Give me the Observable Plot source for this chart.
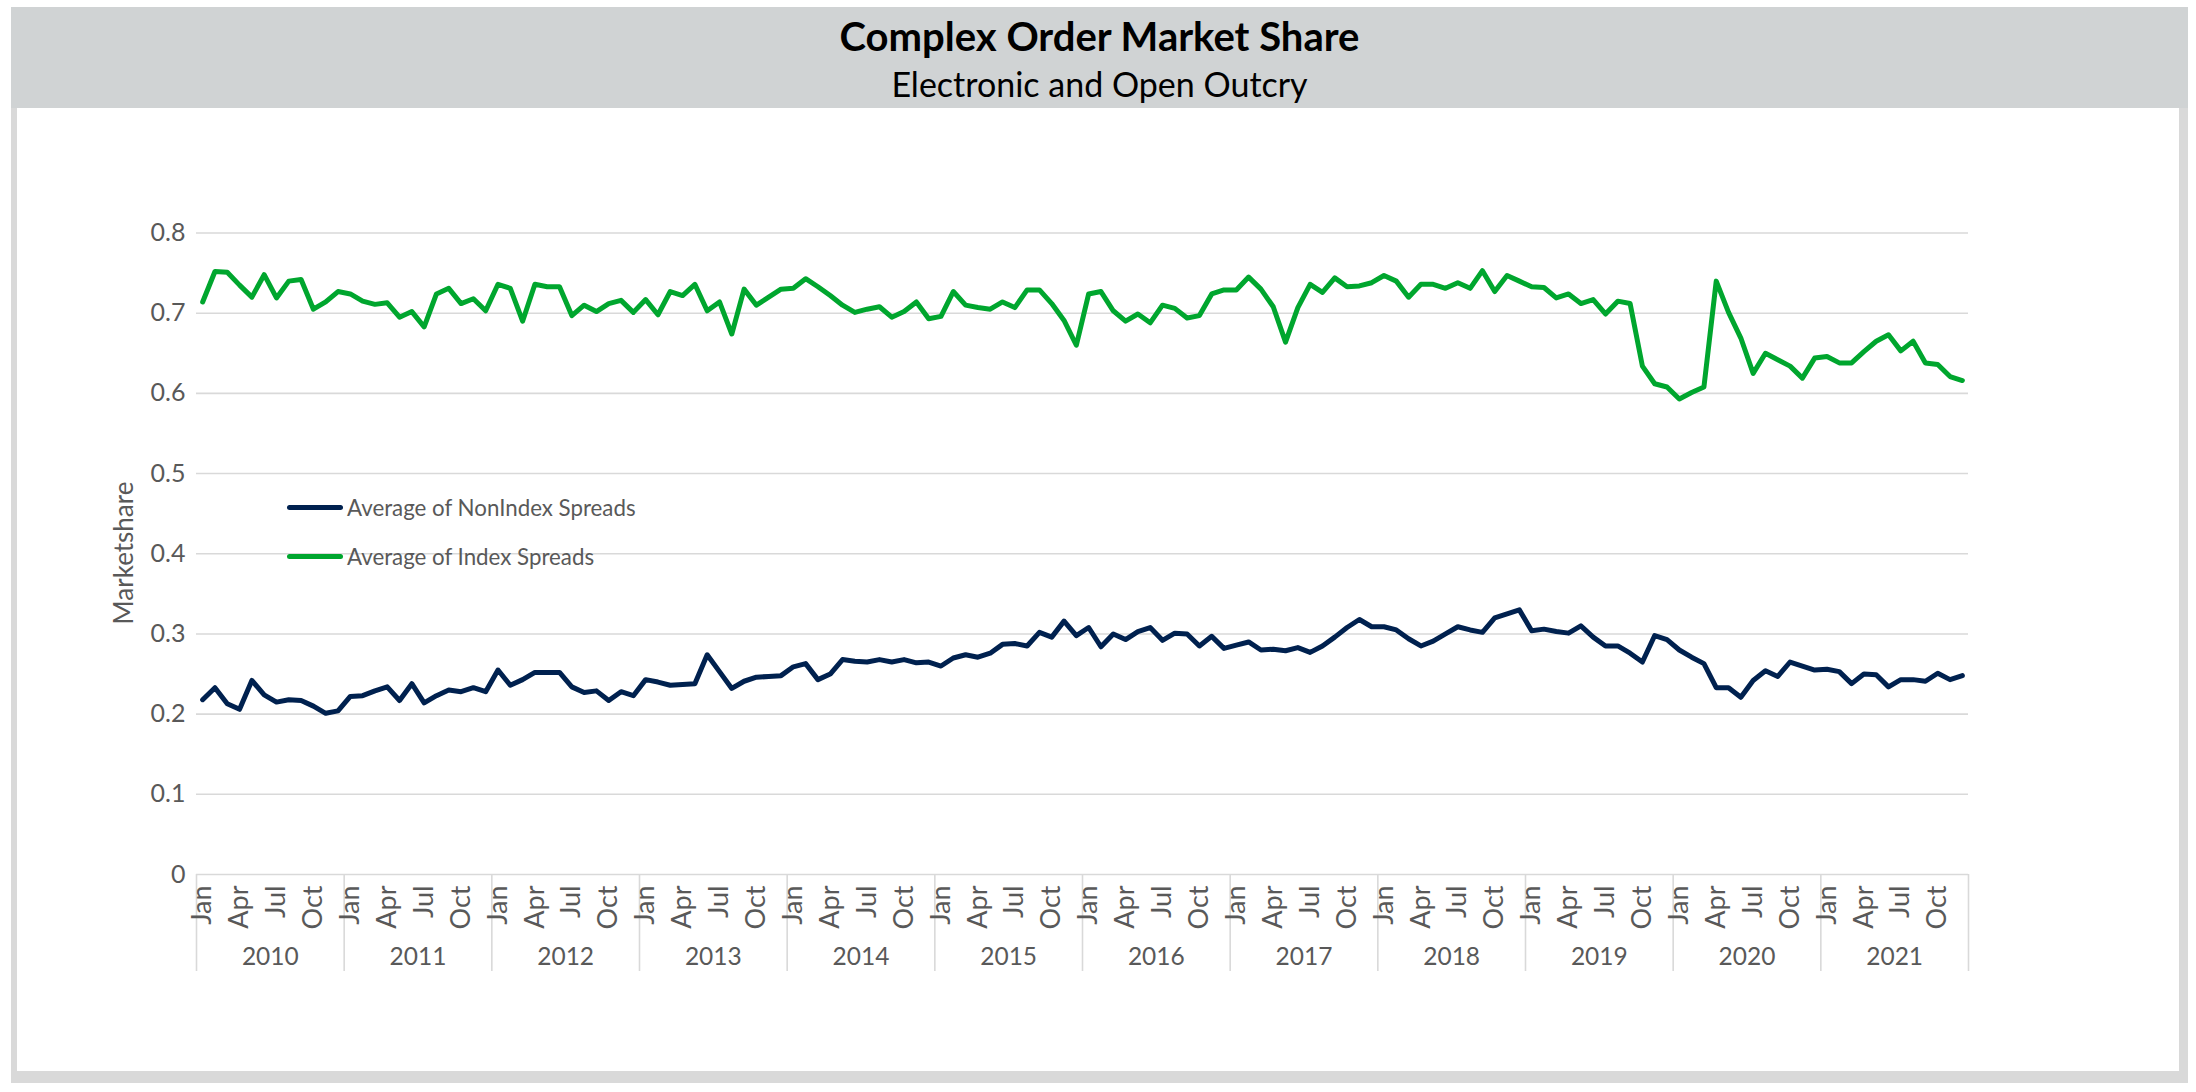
<!DOCTYPE html>
<html>
<head>
<meta charset="utf-8">
<script src="https://cdn.jsdelivr.net/npm/d3@7"></script>
<script src="https://cdn.jsdelivr.net/npm/@observablehq/plot@0.6"></script>
<style>
  html, body { margin: 0; padding: 0; background: #fff; width: 2196px; height: 1092px; overflow: hidden; font-family: Lato, sans-serif; }
  #frame { position: absolute; left: 11px; top: 7px; width: 2177px; height: 1076px; box-sizing: border-box;
           border-left: 6px solid #d9d9d9; border-right: 9px solid #d9d9d9; border-bottom: 12px solid #d9d9d9; }
  #header { position: absolute; left: 11px; top: 7px; width: 2177px; height: 101px; background: #d0d3d4; }
  #title { position: absolute; left: 0; width: 100%; top: 7px; text-align: center; font-weight: 700; font-size: 40px; line-height: 44px; color: #000; }
  #subtitle { position: absolute; left: 0; width: 100%; top: 59px; text-align: center; font-size: 34px; line-height: 36px; color: #000; }
  #chart { position: absolute; left: 0; top: 110px; }
  #ylabel { position: absolute; left: 123px; top: 553px; transform: translate(-50%, -50%) rotate(-90deg); font-size: 26px; color: #595959; white-space: nowrap; }
  .leg { position: absolute; left: 287px; height: 30px; display: flex; align-items: center; font-size: 22.3px; color: #595959; white-space: nowrap; }
  .leg .sw { width: 56px; height: 5px; border-radius: 3px; margin-right: 4px; }
</style>
</head>
<body>
<div id="frame"></div>
<div id="header">
  <div id="title">Complex Order Market Share</div>
  <div id="subtitle">Electronic and Open Outcry</div>
</div>
<div id="chart"></div>
<div id="ylabel">Marketshare</div>
<div id="legend"></div>
<script>
const years = [2010, 2011, 2012, 2013, 2014, 2015, 2016, 2017, 2018, 2019, 2020, 2021];
const monthNames = ["Jan","Feb","Mar","Apr","May","Jun","Jul","Aug","Sep","Oct","Nov","Dec"];
const labeledMonths = ["Jan","Apr","Jul","Oct"];
const yTicks = [0, 0.1, 0.2, 0.3, 0.4, 0.5, 0.6, 0.7, 0.8];
const seriesNames = ["Average of NonIndex Spreads", "Average of Index Spreads"];
const seriesColors = ["#00214f", "#00a62e"];

const nonIndexSpreads = [
  0.218, 0.233, 0.213, 0.206, 0.242, 0.224, 0.215, 0.218, 0.217, 0.210, 0.201, 0.204,
  0.222, 0.223, 0.229, 0.234, 0.217, 0.238, 0.214, 0.223, 0.230, 0.228, 0.233, 0.228,
  0.255, 0.236, 0.243, 0.252, 0.252, 0.252, 0.234, 0.227, 0.229, 0.217, 0.228, 0.223,
  0.243, 0.240, 0.236, 0.237, 0.238, 0.274, 0.253, 0.232, 0.241, 0.246, 0.247, 0.248,
  0.259, 0.263, 0.243, 0.250, 0.268, 0.266, 0.265, 0.268, 0.265, 0.268, 0.264, 0.265,
  0.260, 0.270, 0.274, 0.271, 0.276, 0.287, 0.288, 0.285, 0.302, 0.296, 0.316, 0.298,
  0.308, 0.284, 0.300, 0.293, 0.303, 0.308, 0.292, 0.301, 0.300, 0.285, 0.297, 0.282,
  0.286, 0.290, 0.280, 0.281, 0.279, 0.283, 0.277, 0.285, 0.296, 0.308, 0.318, 0.309,
  0.309, 0.305, 0.294, 0.285, 0.291, 0.300, 0.309, 0.305, 0.302, 0.320, 0.325, 0.330,
  0.304, 0.306, 0.303, 0.301, 0.310, 0.296, 0.285, 0.285, 0.276, 0.265, 0.298, 0.293,
  0.280, 0.271, 0.263, 0.233, 0.233, 0.221, 0.242, 0.254, 0.247, 0.265, 0.260, 0.255,
  0.256, 0.253, 0.238, 0.250, 0.249, 0.234, 0.243, 0.243, 0.241, 0.251, 0.243, 0.248
];

const indexSpreads = [
  0.714, 0.752, 0.751, 0.735, 0.720, 0.748, 0.719, 0.740, 0.742, 0.705, 0.714, 0.727,
  0.724, 0.715, 0.711, 0.713, 0.695, 0.702, 0.683, 0.724, 0.731, 0.712, 0.718, 0.703,
  0.736, 0.731, 0.690, 0.736, 0.733, 0.733, 0.697, 0.710, 0.702, 0.712, 0.716, 0.701,
  0.717, 0.698, 0.727, 0.722, 0.736, 0.703, 0.714, 0.674, 0.730, 0.710, 0.720, 0.730,
  0.731, 0.743, 0.733, 0.722, 0.710, 0.701, 0.705, 0.708, 0.695, 0.702, 0.714, 0.693,
  0.696, 0.727, 0.710, 0.707, 0.705, 0.714, 0.707, 0.729, 0.729, 0.712, 0.691, 0.660,
  0.724, 0.727, 0.703, 0.690, 0.699, 0.688, 0.710, 0.706, 0.694, 0.697, 0.724, 0.729,
  0.729, 0.745, 0.730, 0.708, 0.664, 0.707, 0.736, 0.726, 0.744, 0.733, 0.734, 0.738,
  0.747, 0.740, 0.720, 0.736, 0.736, 0.731, 0.738, 0.731, 0.753, 0.727, 0.747, 0.740,
  0.733, 0.732, 0.719, 0.724, 0.712, 0.717, 0.699, 0.715, 0.712, 0.634, 0.612, 0.608,
  0.593, 0.601, 0.608, 0.740, 0.701, 0.669, 0.625, 0.650, 0.642, 0.634, 0.619, 0.644,
  0.646, 0.638, 0.638, 0.652, 0.665, 0.673, 0.653, 0.665, 0.638, 0.636, 0.621, 0.616
];

const rows = [];
[nonIndexSpreads, indexSpreads].forEach((arr, s) => {
  arr.forEach((v, i) => rows.push({ x: i + 0.5, value: v, series: seriesNames[s] }));
});
const nCat = years.length * monthNames.length;
const yearBounds = d3.range(years.length + 1).map(k => k * monthNames.length);
const yearCenters = years.map((y, k) => k * monthNames.length + monthNames.length / 2);
const monthTicks = [];
years.forEach((y, k) => labeledMonths.forEach(m => monthTicks.push(k * 12 + monthNames.indexOf(m) + 0.5)));

const chart = Plot.plot({
  width: 2196,
  height: 962,
  marginLeft: 196,
  marginRight: 228,
  marginTop: 122.5,
  marginBottom: 198,
  style: { fontFamily: "Lato, sans-serif", fontSize: "25px", color: "#595959", background: "transparent" },
  x: { type: "linear", domain: [0, nCat] },
  y: { domain: [0, 0.8] },
  color: { domain: seriesNames, range: seriesColors },
  marks: [
    Plot.gridY(yTicks, { stroke: "#d9d9d9", strokeOpacity: 1, strokeWidth: 1.6 }),
    Plot.axisY(yTicks, { tickSize: 0, tickPadding: 11, fontSize: 25, tickFormat: d => String(+d.toFixed(1)), label: null, fill: "#595959" }),
    Plot.axisX(yearBounds, { tickSize: 97, stroke: "#d9d9d9", strokeOpacity: 1, strokeWidth: 1.6, tickFormat: () => "", label: null }),
    Plot.axisX(monthTicks, { tickSize: 0, tickPadding: 11, fontSize: 27, tickRotate: -90, tickFormat: d => monthNames[Math.floor(d) % 12], label: null, fill: "#595959" }),
    Plot.axisX(yearCenters, { tickSize: 0, tickPadding: 73, fontSize: 24.5, tickFormat: d => String(years[Math.floor(d / 12)]), label: null, fill: "#595959" }),
    Plot.line(rows, { x: "x", y: "value", z: "series", stroke: "series", strokeWidth: 5, strokeLinejoin: "round", strokeLinecap: "round" })
  ]
});
document.getElementById("chart").appendChild(chart);

const legend = document.getElementById("legend");
const legendTops = [492, 541];
seriesNames.forEach((name, s) => {
  const row = document.createElement("div");
  row.className = "leg";
  row.style.top = legendTops[s] + "px";
  const sw = document.createElement("div");
  sw.className = "sw";
  sw.style.background = seriesColors[s];
  row.appendChild(sw);
  row.appendChild(document.createTextNode(name));
  legend.appendChild(row);
});
</script>
</body>
</html>
